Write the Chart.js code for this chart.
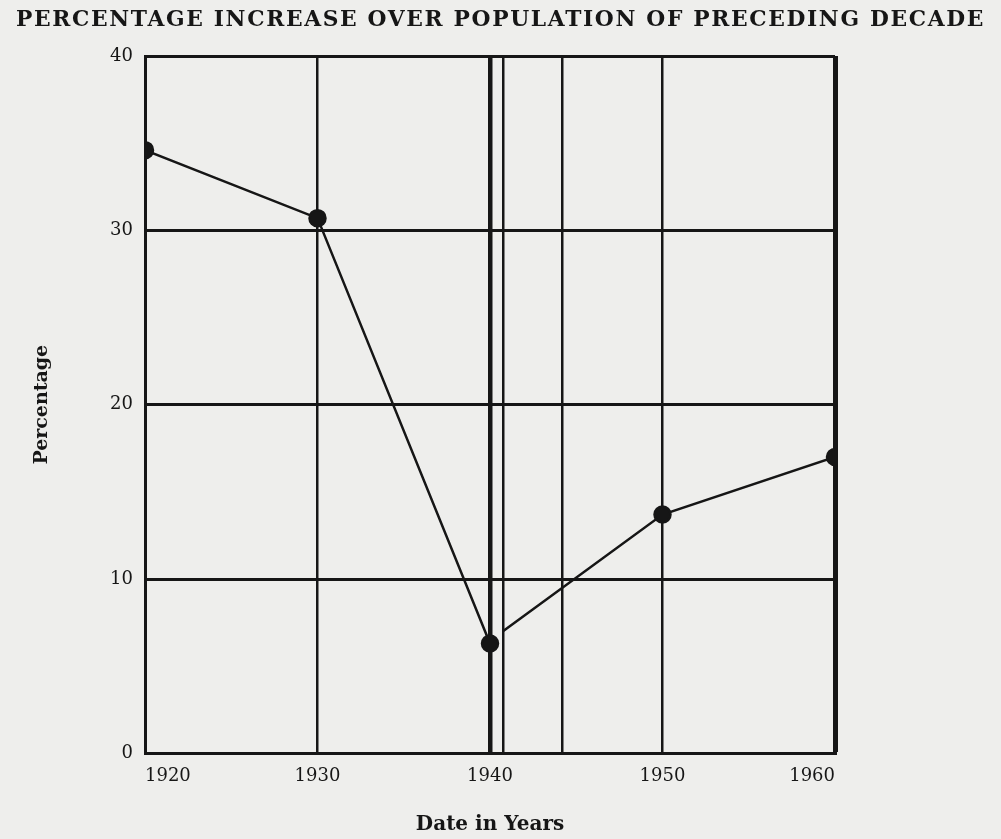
<!DOCTYPE html>
<html>
<head>
<meta charset="utf-8">
<script src="https://cdn.jsdelivr.net/npm/chart.js@4.4.1/dist/chart.umd.min.js"></script>
<style>
  html, body { margin: 0; padding: 0; background: #eeeeec; }
  #wrap { width: 1001px; height: 839px; }
</style>
</head>
<body>
<div id="wrap"><canvas id="mycanvas" width="1001" height="839"></canvas></div>
<script>
// census years and percentage increase
var years = [1920, 1930, 1940, 1950, 1960];
var pctBefore = [34.6, 30.7, 6.3];          // 1920 - 1940
var afterYears = [1940.75, 1950, 1960];     // line restarts at the 1941 rule
var pctAfter = [7.0, 13.7, 17.0];
var markerYears = [1940.75, 1944.2];        // extra vertical rules
var yTicks = [0, 10, 20, 30, 40];

var ink = "#161616";
var serif = "'DejaVu Serif', 'Liberation Serif', serif";

function pts(xs, ys) {
	var out = [];
	for (var i in xs) out.push({x: xs[i], y: ys[i]});
	return out;
}

var chartdata = {
	datasets: [
		{
			label: "before",
			data: pts(years.slice(0, 3), pctBefore),
			showLine: true,
			borderColor: ink,
			borderWidth: 2.5,
			backgroundColor: ink,
			pointRadius: 8,
			pointHoverRadius: 8
		},
		{
			label: "after",
			data: pts(afterYears, pctAfter),
			showLine: true,
			borderColor: ink,
			borderWidth: 2.5,
			backgroundColor: ink,
			pointRadius: [0, 8, 8],
			pointHoverRadius: [0, 8, 8]
		}
	]
};

function gridWidth(v) {
	if (v === 1940) return 4.5;
	if (v === 1960) return 5;
	if (v === 1920) return 3;
	return 2.5;
}

var ctx = document.getElementById("mycanvas");

var LineGraph = new Chart(ctx, {
	type: 'scatter',
	data: chartdata,
	options: {
		responsive: false,
		animation: false,
		layout: { padding: { left: 16, right: 16, top: 0, bottom: 2 } },
		plugins: {
			legend: { display: false },
			tooltip: { enabled: false },
			title: {
				display: true,
				text: "PERCENTAGE INCREASE OVER POPULATION OF PRECEDING DECADE",
				color: ink,
				font: { family: serif, size: 22.5, weight: 'bold' },
				padding: { top: 7, bottom: 22 }
			}
		},
		scales: {
			x: {
				type: 'linear',
				min: 1920,
				max: 1960,
				afterBuildTicks: function(scale) {
					var all = years.concat(markerYears).sort(function(a, b){ return a - b; });
					scale.ticks = all.map(function(v){ return {value: v}; });
				},
				ticks: {
					color: ink,
					align: 'inner',
					padding: 12,
					font: { family: serif, size: 18 },
					callback: function(v) {
						return years.indexOf(v) >= 0 ? String(v) : '';
					}
				},
				grid: {
					color: ink,
					drawTicks: false,
					lineWidth: function(c) { return c.tick ? gridWidth(c.tick.value) : 2.5; }
				},
				border: { display: true, color: ink, width: 3 },
				title: {
					display: true,
					text: "Date in Years",
					color: ink,
					font: { family: serif, size: 20, weight: 'bold' },
					padding: { top: 14, bottom: 0 }
				}
			},
			y: {
				min: 0,
				max: 40,
				afterBuildTicks: function(scale) {
					scale.ticks = yTicks.map(function(v){ return {value: v}; });
				},
				afterFit: function(scale) { scale.width = 129; },
				ticks: {
					color: ink,
					padding: 12,
					font: { family: serif, size: 18 }
				},
				grid: {
					color: ink,
					drawTicks: false,
					lineWidth: 3
				},
				border: { display: true, color: ink, width: 3 },
				title: {
					display: true,
					text: "Percentage",
					color: ink,
					font: { family: serif, size: 19, weight: 'bold' },
					padding: { top: 15, bottom: 0 }
				}
			},
			// empty right-hand axis, only keeps the blank paper margin
			yr: {
				position: 'right',
				min: 0,
				max: 40,
				afterFit: function(scale) { scale.width = 150; },
				ticks: { display: false },
				grid: { display: false },
				border: { display: false }
			}
		}
	}
});

// the printed title is a wide face: space its letters out a little
if (LineGraph.titleBlock) {
	var tb = LineGraph.titleBlock;
	var origDraw = tb.draw;
	tb.draw = function() {
		this.ctx.save();
		this.ctx.letterSpacing = "1.7px";
		origDraw.call(this);
		this.ctx.restore();
	};
	LineGraph.draw();
}
</script>
</body>
</html>
